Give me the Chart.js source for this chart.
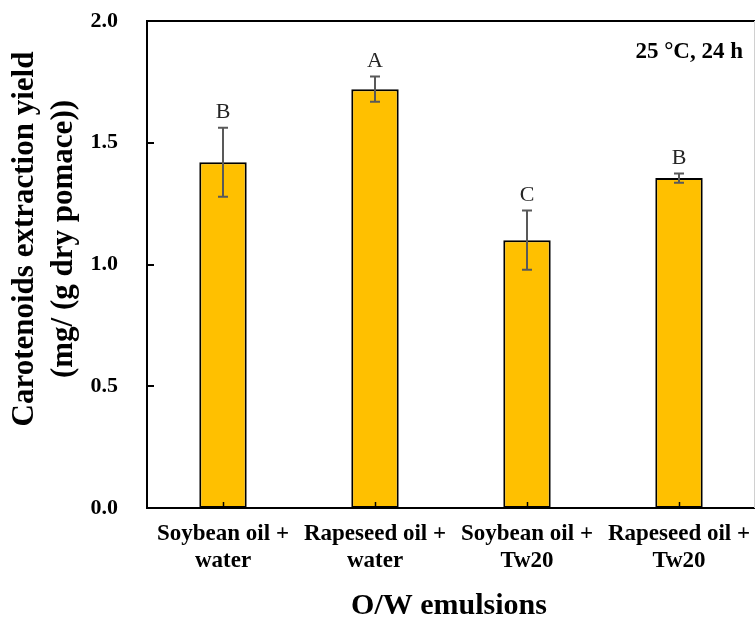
<!DOCTYPE html>
<html>
<head>
<meta charset="utf-8">
<script src="https://cdn.jsdelivr.net/npm/chart.js@4.4.1/dist/chart.umd.min.js"></script>
<style>
	html, body { margin: 0; padding: 0; background: #fff; }
	#wrap { width: 755px; height: 622px; }
</style>
</head>
<body>
<div id="wrap"><canvas id="chartjsBar" width="755" height="622"></canvas></div>
<script>
// Data
var categories = [
	['Soybean oil +', 'water'],
	['Rapeseed oil +', 'water'],
	['Soybean oil +', 'Tw20'],
	['Rapeseed oil +', 'Tw20']
];
var yieldMeans = [1.42, 1.72, 1.10, 1.355];
var yieldErrors = [0.142, 0.052, 0.122, 0.019];
var groupLetters = ['B', 'A', 'C', 'B'];
var yTicks = [0, 0.5, 1.0, 1.5, 2.0];

(function() {
	'use strict';

	var colors = {
		bar : "#FFC000",
		barBorder : "#000000",
		errorBar : "#595959",
		axis : "#000000",
		text : "#000000",
		letters : "#262626",
		rightEdge : "#d0d0d0"
	};

	var fontFamily = "'Liberation Serif', 'Times New Roman', Times, serif";

	// draws the things chart.js has no option for: inner ticks, frame,
	// error bars, letters, axis titles and the condition label
	var extras = {
		id : 'extras',
		afterDatasetsDraw : function(chart) {
			var ctx = chart.ctx;
			var area = chart.chartArea;
			var x = chart.scales.x;
			var y = chart.scales.y;
			var meta = chart.getDatasetMeta(0);

			ctx.save();

			// top and right frame
			ctx.strokeStyle = colors.axis;
			ctx.lineWidth = 2;
			ctx.beginPath();
			ctx.moveTo(area.left - 1, area.top);
			ctx.lineTo(area.right, area.top);
			ctx.stroke();
			ctx.strokeStyle = colors.rightEdge;
			ctx.lineWidth = 1;
			ctx.beginPath();
			ctx.moveTo(area.right - 0.5, area.top);
			ctx.lineTo(area.right - 0.5, area.bottom);
			ctx.stroke();

			// y ticks, pointing inwards
			ctx.strokeStyle = colors.axis;
			ctx.lineWidth = 2;
			yTicks.forEach(function(v) {
				var py = Math.round(y.getPixelForValue(v));
				ctx.beginPath();
				ctx.moveTo(area.left, py);
				ctx.lineTo(area.left + 7, py);
				ctx.stroke();
			});

			// x ticks, pointing inwards
			ctx.lineWidth = 1.5;
			categories.forEach(function(c, i) {
				var px = Math.round(x.getPixelForTick(i)) + 0.5;
				ctx.beginPath();
				ctx.moveTo(px, area.bottom);
				ctx.lineTo(px, area.bottom - 6);
				ctx.stroke();
			});

			// error bars and letters
			meta.data.forEach(function(bar, i) {
				var cx = bar.x;
				var top = y.getPixelForValue(yieldMeans[i] + yieldErrors[i]);
				var bot = y.getPixelForValue(yieldMeans[i] - yieldErrors[i]);
				ctx.strokeStyle = colors.errorBar;
				ctx.lineWidth = 2;
				ctx.beginPath();
				ctx.moveTo(cx, top);
				ctx.lineTo(cx, bot);
				ctx.moveTo(cx - 5, top);
				ctx.lineTo(cx + 5, top);
				ctx.moveTo(cx - 5, bot);
				ctx.lineTo(cx + 5, bot);
				ctx.stroke();

				ctx.fillStyle = colors.letters;
				ctx.font = "22px " + fontFamily;
				ctx.textAlign = 'center';
				ctx.textBaseline = 'middle';
				ctx.fillText(groupLetters[i], cx, top - 15);
			});

			// condition label
			ctx.fillStyle = colors.text;
			ctx.font = "bold 23px " + fontFamily;
			ctx.textAlign = 'right';
			ctx.textBaseline = 'alphabetic';
			ctx.fillText('25 \u00B0C, 24 h', 743, 58);

			// x axis title
			ctx.textAlign = 'center';
			ctx.textBaseline = 'middle';
			ctx.font = "bold 30px " + fontFamily;
			ctx.fillText('O/W emulsions', 449, 606);

			// y axis title (two lines, rotated)
			ctx.font = "bold 31px " + fontFamily;
			ctx.translate(0, 239);
			ctx.rotate(-Math.PI / 2);
			ctx.fillText('Carotenoids extraction yield', 0, 25);
			ctx.fillText('(mg/ (g dry pomace))', 0, 64);

			ctx.restore();
		}
	};

	new Chart(document.getElementById('chartjsBar'), {
		type : 'bar',
		data : {
			labels : categories,
			datasets : [ {
				label : "Carotenoids",
				data : yieldMeans,
				backgroundColor : colors.bar,
				borderColor : colors.barBorder,
				borderWidth : 2,
				borderSkipped : false,
				barPercentage : 0.312,
				categoryPercentage : 1.0
			} ]
		},
		options : {
			responsive : false,
			animation : false,
			layout : {
				padding : { top : 21, right : 0, left : 0, bottom : 0 }
			},
			plugins : {
				legend : { display : false },
				tooltip : { enabled : false }
			},
			scales : {
				x : {
					grid : { display : false, drawTicks : false },
					border : { display : true, color : colors.axis, width : 2 },
					ticks : {
						color : colors.text,
						padding : 13,
						maxRotation : 0,
						autoSkip : false,
						font : { family : fontFamily, size : 23, weight : 'bold', lineHeight : 1.17 }
					},
					afterFit : function(scale) {
						scale.height = 114;
						scale.paddingLeft = 0;
						scale.paddingRight = 0;
					}
				},
				y : {
					min : 0,
					max : 2,
					grid : { display : false, drawTicks : false },
					border : { display : true, color : colors.axis, width : 2 },
					afterBuildTicks : function(scale) {
						scale.ticks = yTicks.map(function(v) { return { value : v }; });
					},
					ticks : {
						color : colors.text,
						padding : 29,
						callback : function(v) { return Number(v).toFixed(1); },
						font : { family : fontFamily, size : 22, weight : 'bold' }
					},
					afterFit : function(scale) {
						scale.width = 147;
						scale.paddingTop = 0;
						scale.paddingBottom = 0;
					}
				}
			}
		},
		plugins : [ extras ]
	});

})();
</script>
</body>
</html>
